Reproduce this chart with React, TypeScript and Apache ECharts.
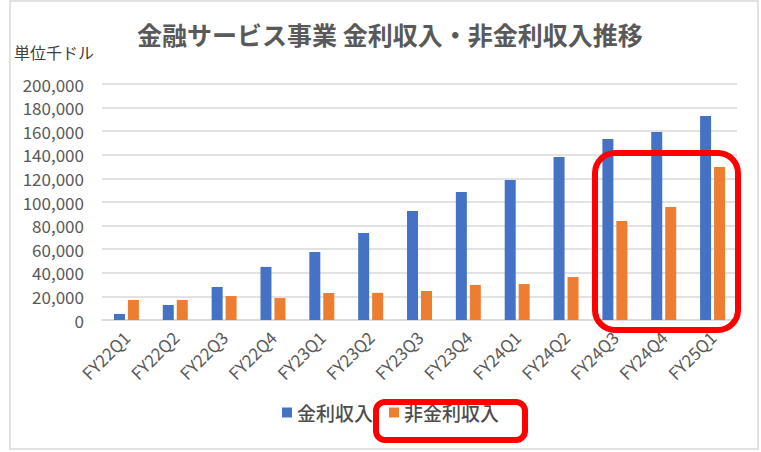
import React, { useEffect, useRef } from "react";
import * as echarts from "echarts";

const categories = [
  "FY22Q1", "FY22Q2", "FY22Q3", "FY22Q4",
  "FY23Q1", "FY23Q2", "FY23Q3", "FY23Q4",
  "FY24Q1", "FY24Q2", "FY24Q3", "FY24Q4", "FY25Q1",
];
const interestIncome = [
  5100, 12700, 28000, 45000, 57600, 73700, 92400, 108500,
  118600, 138100, 153400, 159300, 172900,
];
const nonInterestIncome = [
  17000, 17000, 20300, 18600, 22900, 23000, 24600, 29700,
  30500, 36400, 83900, 95800, 129700,
];
const seriesNames = ["金利収入", "非金利収入"];
const titleText = "金融サービス事業 金利収入・非金利収入推移";
const unitText = "単位千ドル";

const FONT = "'Noto Sans CJK JP', 'Noto Sans', sans-serif";
const GRAY = "#595959";

export default function App() {
  const ref = useRef<HTMLDivElement>(null);
  useEffect(() => {
    document.body.style.margin = "0";
    const chart = echarts.init(ref.current!, null, { renderer: "svg" });
    chart.setOption({
      animation: false,
      backgroundColor: "#ffffff",
      textStyle: { fontFamily: FONT },
      title: {
        text: titleText,
        left: 132,
        top: 16,
        textStyle: { fontFamily: FONT, fontSize: 25, fontWeight: "bold", color: GRAY },
      },
      legend: {
        bottom: 25,
        left: 277,
        itemWidth: 10,
        itemHeight: 10,
        itemGap: 16,
        icon: "rect",
        textStyle: { fontFamily: FONT, fontSize: 19, color: "#4d4d4d", fontWeight: 500 },
        data: seriesNames,
      },
      grid: { left: 102, right: 24, top: 84, bottom: 132 },
      xAxis: {
        type: "category",
        data: categories,
        axisLine: { lineStyle: { color: "#d9d9d9", width: 1.5 } },
        axisTick: { show: false },
        axisLabel: {
          rotate: 45,
          interval: 0,
          margin: 14,
          fontFamily: FONT,
          fontSize: 17,
          color: GRAY,
        },
      },
      yAxis: {
        type: "value",
        min: 0,
        max: 200000,
        interval: 20000,
        axisLine: { show: false },
        axisTick: { show: false },
        splitLine: { lineStyle: { color: "#d9d9d9", width: 1.5 } },
        axisLabel: {
          margin: 18,
          fontFamily: FONT,
          fontSize: 17,
          color: GRAY,
          formatter: (v: number) => v.toLocaleString("en-US"),
        },
      },
      series: [
        {
          name: seriesNames[0],
          type: "bar",
          data: interestIncome,
          barWidth: 11,
          barGap: "27%",
          itemStyle: { color: "#4472c4" },
        },
        {
          name: seriesNames[1],
          type: "bar",
          data: nonInterestIncome,
          barWidth: 11,
          barGap: "27%",
          itemStyle: { color: "#ed7d31" },
        },
      ],
      graphic: [
        {
          type: "rect",
          shape: { x: 10, y: 1, width: 748, height: 448 },
          style: { fill: "none", stroke: "#d9d9d9", lineWidth: 1.5 },
          silent: true,
        },
        {
          type: "text",
          left: 14,
          top: 44,
          style: { text: unitText, fontFamily: FONT, fontSize: 16, fill: "#404040" },
        },
        {
          type: "rect",
          shape: { x: 595, y: 153, width: 143, height: 177, r: 20 },
          style: { fill: "none", stroke: "#ff0000", lineWidth: 6 },
          z: 100,
        },
        {
          type: "rect",
          shape: { x: 376, y: 402, width: 149, height: 38, r: 9 },
          style: { fill: "none", stroke: "#ff0000", lineWidth: 6 },
          z: 100,
        },
      ],
    });
    return () => chart.dispose();
  }, []);
  return <div ref={ref} style={{ width: 761, height: 452 }} />;
}
